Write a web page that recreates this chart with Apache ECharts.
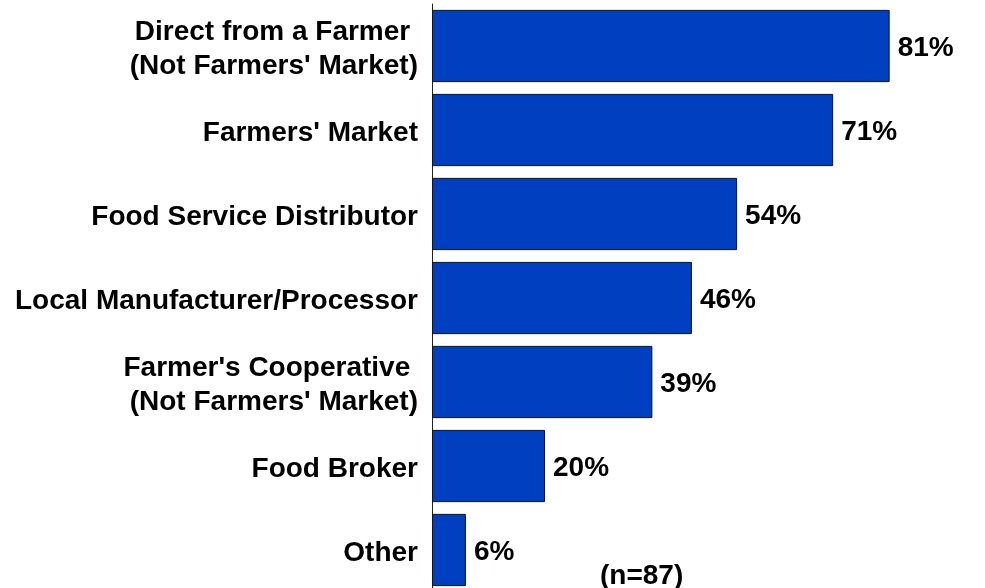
<!DOCTYPE html>
<html>
<head>
<meta charset="utf-8">
<script src="https://cdn.jsdelivr.net/npm/echarts@6/dist/echarts.min.js"></script>
<style>
  html, body { margin: 0; padding: 0; background: #fff; }
  #chart { width: 985px; height: 588px; }
</style>
</head>
<body>
<div id="chart"></div>
<script>
// Purchasing channels, listed top to bottom
const categories = [
  "Direct from a Farmer \n(Not Farmers' Market)",
  "Farmers' Market",
  "Food Service Distributor",
  "Local Manufacturer/Processor",
  "Farmer's Cooperative \n(Not Farmers' Market)",
  "Food Broker",
  "Other"
];
// Share of respondents (%)
const shares = [81, 71, 54, 46, 39, 20, 6];
const sampleNote = "(n=87)";

const chart = echarts.init(document.getElementById('chart'));
const font = "'Liberation Sans', Arial, sans-serif";

chart.setOption({
  animation: false,
  grid: {
    left: 432, top: 4, width: 565, height: 588,
    outerBoundsMode: 'none',
    containLabel: false
  },
  xAxis: {
    type: 'value',
    min: 0,
    max: 100,
    show: false
  },
  yAxis: {
    type: 'category',
    inverse: true,
    data: categories,
    axisLine: { show: true, lineStyle: { color: '#222', width: 1 } },
    axisTick: { show: false },
    axisLabel: {
      margin: 14,
      align: 'right',
      // each line is wrapped in a rich token so the block sits a little lower
      formatter: (v) => v.split('\n').map((s) => '{t|' + s + '}').join('\n') + '\n{pad|}',
      rich: {
        t: {
          color: '#000',
          fontFamily: font,
          fontWeight: 'bold',
          fontSize: 28,
          lineHeight: 34,
          align: 'right'
        },
        pad: { height: 0, lineHeight: 0, fontSize: 1 }
      },
      padding: [6, 0, 0, 0]
    }
  },
  series: [{
    type: 'bar',
    data: shares,
    barCategoryGap: '14%',
    itemStyle: { color: '#0040C0', borderColor: '#111', borderWidth: 1 },
    label: {
      show: true,
      position: 'right',
      distance: 8,
      offset: [0, 2],
      formatter: '{c}%',
      color: '#000',
      fontFamily: font,
      fontWeight: 'bold',
      fontSize: 28
    }
  }],
  graphic: [{
    type: 'text',
    x: 600,
    y: 576,
    style: {
      text: sampleNote,
      fill: '#000',
      font: 'bold 28px ' + font,
      verticalAlign: 'middle'
    }
  }]
});
</script>
</body>
</html>
